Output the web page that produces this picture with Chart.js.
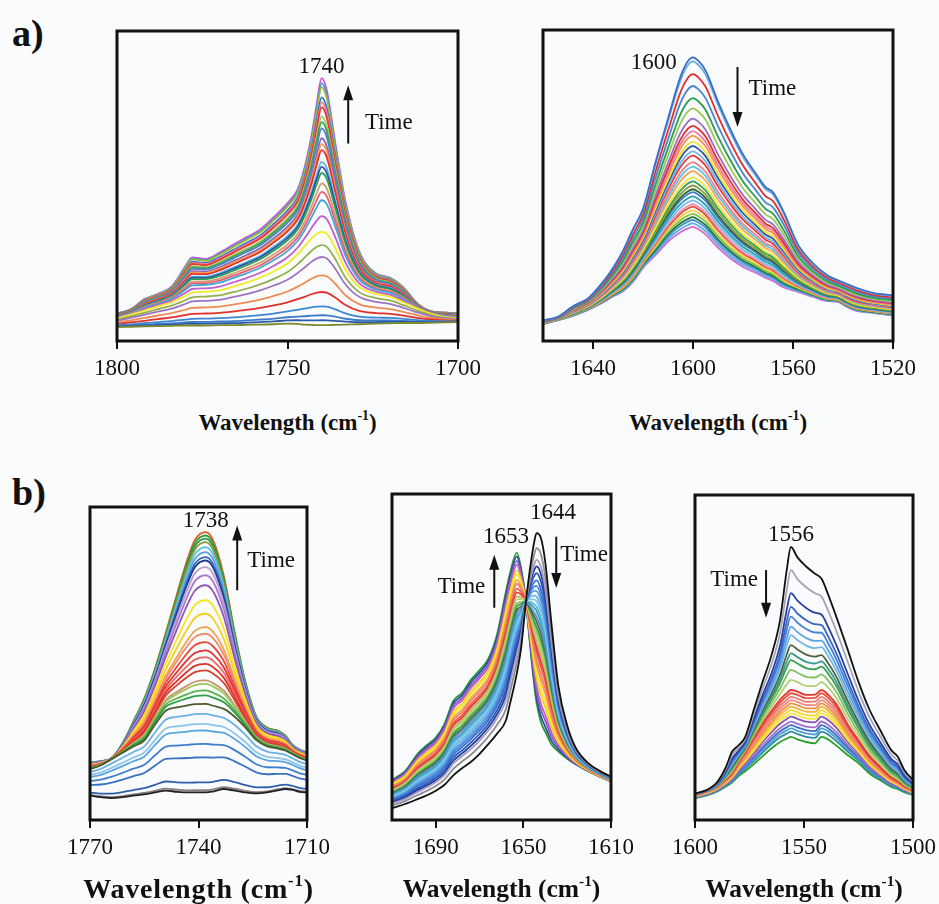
<!DOCTYPE html>
<html lang="en">
<head>
<meta charset="UTF-8">
<title>IR spectra vs time</title>
<script src="https://cdn.jsdelivr.net/npm/chart.js"></script>
<style>
  body { margin: 0; background: #fafbfc; width: 939px; height: 904px; position: relative; overflow: hidden; }
  canvas { position: absolute; }
  .tag { position: absolute; font: bold 38px "Liberation Serif", serif; color: #111; line-height: 1; }
  .title { position: absolute; text-align: center; font-family: "Liberation Serif", serif; font-weight: bold; color: #111; line-height: 1; white-space: nowrap; }
  .title sup { font-size: 0.6em; vertical-align: 0.7em; line-height: 0; }
</style>
</head>
<body>
<div class="tag" style="left:12px;top:14px">a)</div>
<div class="tag" style="left:12px;top:473px">b)</div>

<canvas id="a1"></canvas>
<canvas id="a2"></canvas>
<canvas id="b1"></canvas>
<canvas id="b2"></canvas>
<canvas id="b3"></canvas>

<script>
  // ---- a) left : 1800-1700 band, grows with time ----
  const wnA1 = [1800, 1796, 1792, 1788, 1784, 1780, 1778, 1774, 1770, 1766, 1762, 1758, 1754, 1750, 1747, 1745, 1743, 1741.5, 1740, 1738.5, 1736, 1733, 1729, 1724, 1720, 1716, 1712, 1708, 1704, 1700];
  const firstA1 = [4.5, 4.6, 4.7, 4.8, 4.9, 5.0, 5.0, 5.0, 5.1, 5.1, 5.2, 5.3, 5.4, 5.6, 5.5, 5.3, 5.2, 5.1, 5.1, 5.1, 5.2, 5.3, 5.4, 5.6, 5.7, 5.8, 5.8, 5.9, 6.0, 6.1];
  const midA1 = [7.3, 8.5, 9.8, 11.2, 12.5, 14.5, 15.6, 15.9, 16.3, 17.5, 18.8, 20.4, 22.5, 25, 28, 30.5, 33, 34.5, 35.2, 34.6, 30, 23, 17.5, 15.2, 14.3, 12.5, 10.5, 8.8, 7.8, 7.3];
  const lastA1 = [8.9, 10.2, 13.5, 15.2, 17.5, 24, 27, 26.5, 28.5, 31, 33.5, 36, 40, 44.5, 49, 56, 66, 76, 84.8, 81, 64, 45, 29, 21.8, 20.5, 17.3, 12.2, 9.6, 9.2, 8.9];
  const peaksA1 = [5.1, 6.7, 8.3, 11.2, 15.8, 21.2, 27.1, 30.9, 35.2, 40.3, 45.4, 48.1, 50.8, 54.2, 56.2, 57.8, 61.6, 63.5, 65.4, 68.6, 70.6, 72.4, 75.4, 77, 78.6, 81.9, 83.2, 84.8];
  const ticksA1 = [1800, 1750, 1700];

  // ---- a) right : 1600 band, falls with time ----
  const wnA2 = [1660, 1654, 1648, 1642, 1636, 1632, 1628, 1624, 1620, 1615, 1610, 1605, 1602, 1600, 1598, 1595, 1590, 1585, 1580, 1575, 1571, 1568, 1564, 1558, 1552, 1546, 1542, 1539, 1535, 1528, 1520];
  const firstA2 = [6.6, 7.8, 11.2, 13.7, 19, 23.5, 29, 36, 42.5, 57.5, 71.5, 85, 90, 91.2, 90.2, 87, 77, 68, 60, 54, 49.5, 47.8, 42, 31, 25, 21, 19.5, 18.5, 17.2, 15.5, 14.7];
  const lastA2 = [5.5, 6.7, 8.1, 10, 12.4, 14.3, 16, 19, 23.5, 27.6, 32, 35, 36.2, 36.7, 36, 34.3, 30, 26.5, 23.8, 22, 20.3, 19.3, 17.3, 15.8, 14.2, 12.8, 12.6, 11.2, 9.8, 9, 8.2];
  const peaksA2 = [91.2, 89.9, 85.8, 82.0, 78.1, 74.8, 71.5, 69.2, 67.5, 66.0, 64.1, 62.7, 61.0, 59.6, 57.5, 56.1, 54.6, 52.6, 51.3, 50.0, 48.8, 47.9, 46.5, 45.2, 44.0, 43.2, 42.0, 40.9, 39.8, 38.9, 37.8, 36.7];
  const ticksA2 = [1640, 1600, 1560, 1520];

  // ---- b) left : 1738 band, grows ----
  const wnB1 = [1770, 1767, 1764, 1761, 1758, 1755, 1752, 1749, 1746, 1743, 1741, 1738, 1736, 1733, 1730, 1727, 1724, 1721, 1718, 1716, 1714, 1712, 1710];
  const firstB1 = [7.8, 7.3, 7.0, 7.3, 7.8, 8.2, 8.8, 9.4, 9.0, 8.8, 8.8, 8.8, 9.1, 9.9, 9.4, 8.8, 8.5, 8.8, 9.5, 9.9, 9.6, 9.0, 8.8];
  const midB1 = [16.3, 17.5, 19.5, 21.5, 23.5, 25.4, 30.5, 35, 36, 36.6, 37, 37.1, 36.5, 35.5, 33, 29.5, 25.5, 23.5, 22.8, 22.2, 21, 19.8, 19];
  const lastB1 = [18.4, 18.8, 19.8, 24.5, 31.5, 38.8, 48.5, 60, 72, 83.5, 89.5, 92, 89.5, 78, 60, 44, 33, 29.5, 28.5, 27, 24, 22.5, 21.6];
  const peaksB1 = [8.8, 9.5, 12, 20, 24.3, 28.6, 30.7, 33.9, 37.1, 39.8, 41.4, 43.5, 44.6, 47.8, 49.9, 52, 54.2, 56.8, 59.5, 61.6, 65.9, 70.2, 75, 78.2, 80.8, 82.9, 84, 85.6, 87.2, 88.8, 89.9, 90.9, 92];
  const ticksB1 = [1770, 1740, 1710];

  // ---- b) middle : 1644 falls, 1653 grows ----
  const wnB2 = [1710, 1704, 1698, 1694, 1690, 1686, 1682, 1678, 1674, 1670, 1666, 1662, 1658, 1656, 1653, 1651, 1649, 1647, 1645, 1644, 1642, 1640, 1637, 1634, 1630, 1626, 1620, 1615, 1610];
  const firstB2 = [3.6, 4.9, 6.5, 7.6, 9, 10.8, 13.7, 15.9, 17.8, 20.3, 23.3, 26.5, 30.5, 36, 45, 53, 66, 77, 85.5, 88, 86.5, 79, 59, 41, 29, 22, 17.2, 15, 13.3];
  const lastB2 = [12.3, 15, 20.5, 23, 25.3, 29.5, 36.5, 39, 43, 46, 49.5, 57, 70, 76, 82, 77, 68, 54, 41, 36, 30, 27, 23, 21, 18.8, 17, 14.8, 13.2, 11.8];
  const at1644B2 = [88, 83.4, 79.8, 77.8, 75.7, 73.5, 71.8, 70.2, 68.5, 67.1, 65.4, 64.1, 62.3, 60.9, 59.2, 57.9, 56.1, 54.8, 53.1, 51.5, 49.4, 47.7, 45.4, 43.6, 41.2, 39.5, 37.6, 36];
  const ticksB2 = [1690, 1650, 1610];

  // ---- b) right : 1556 band, falls ----
  const wnB3 = [1600, 1595, 1590, 1586, 1583, 1580, 1577, 1573, 1569, 1565, 1561, 1558, 1556, 1553, 1549, 1545, 1542, 1539, 1535, 1530, 1525, 1520, 1515, 1510, 1507, 1504, 1500];
  const firstB3 = [8.2, 9.1, 11.5, 16, 21, 23, 25.5, 34, 42.5, 50.5, 61.5, 76.5, 84, 80.8, 78, 75.8, 74.3, 69.5, 62.2, 52.5, 42.5, 34, 27.6, 21.5, 19.5, 15.4, 12.3];
  const midB3 = [7.7, 8.8, 10.2, 12.5, 14.5, 18, 21, 25.5, 29.8, 33.5, 37, 39, 40, 39.5, 38.5, 38.6, 40, 38.6, 35.5, 29.5, 24.5, 19.8, 16.3, 13.2, 12, 10.5, 9.2];
  const lastB3 = [6.7, 7.5, 8.7, 10.2, 11.5, 13.5, 15, 17.2, 19.6, 22, 24, 25, 25.6, 24.8, 24, 23.6, 25.6, 24.8, 22.8, 20, 17.5, 14.3, 12.2, 10.2, 9.5, 8.6, 7.7];
  const peaksB3 = [84, 76.9, 69.8, 65.6, 62.6, 59.5, 56.9, 53.8, 51.3, 49.2, 46.2, 43.1, 40, 39, 37.9, 36.9, 35.9, 34.9, 33.8, 32.8, 31.8, 30.3, 29.2, 28.2, 27.2, 25.6];
  const ticksB3 = [1600, 1550, 1500];

  // line colours, in time order
  const colorsA1 = ['#7a8a2c','#2b5aa8','#3b7bcb','#3f86d2','#e3302b','#f08a55','#9d74c2','#93b04c','#f2ea22','#c25ecb','#45a6dc','#e8606e','#d2a077','#2d9b4e','#2a55a8','#5ab8e2','#e52f2f','#f49a4c','#8a64b4','#4f82c8','#3aa352','#a3c75a','#e23b35','#f07c96','#3474c4','#9aba3c','#4d8fd6','#d557d0'];
  const colorsA2 = ['#3a6fc4','#6aaee2','#e22e2e','#4b86d0','#2f9c4f','#9cc85a','#9b6cc6','#e0302f','#ee7aa0','#f39a4a','#f2e22a','#2c55a8','#6fb5e6','#e8383a','#f0808a','#5cc3e6','#f4a64e','#f1e53a','#33a054','#8c9c3a','#2f6b35','#3f78cc','#2aa0b0','#74bfe8','#f28ca8','#e24848','#f3d23a','#7fc050','#1f7a3a','#4a90d8','#5fb0e0','#d66ad2'];
  const colorsB1 = ['#222222','#8d7d86','#2f5faa','#3a70c0','#3f7ecb','#5aa5de','#8cc4ea','#6cb2e2','#4c5a2c','#2e9e4a','#5bb04a','#9cc65c','#c9956a','#d6402f','#e0302a','#ee6a6a','#e52e2e','#e8483a','#f08a70','#f2a04a','#f5cf20','#f7e41c','#9057b8','#a878cc','#b89ad8','#243f8c','#3468c0','#58a2dc','#5bbfe6','#8a9a3a','#2f9a4a','#3a9c3a','#e85a2a'];
  const colorsB2 = ['#111111','#8c8c8c','#a89cc8','#1f3f99','#2a56b8','#3a6fd0','#4a86d8','#5aa0e0','#6fb6e8','#84c6ee','#56b8de','#3a9fb8','#5b8fd0','#4f6a3a','#3aa050','#90c860','#b8cc70','#c2b070','#e83a30','#ee5a4a','#f08070','#f5a040','#f6e830','#f0d020','#c060c0','#8a5cc0','#2b4ea8','#2e9a2e'];
  const colorsB3 = ['#111111','#a4a4b8','#2a40a0','#3a66c8','#4a82d6','#5aa6e0','#74b8e8','#55603a','#3a9a8a','#3aa050','#80c060','#b0d070','#e23a30','#e85040','#f07a70','#f08c8c','#f0903a','#f5b040','#f5d830','#f2e840','#8a50b8','#a070c8','#3a70c8','#50a0d8','#2a8aa0','#2aa02a'];

  const PAD = 40, PAD_TOP = 12, AXIS_H = 60;
  const SERIF = '"Liberation Serif", serif';

  // each spectrum sits between two neighbouring reference spectra,
  // placed by its measured height at the marker band
  function spectra(wn, refs, band, heights, colors) {
    const bi = wn.indexOf(band);
    const refAt = refs.map(r => r[bi]);
    return heights.map((h, n) => {
      let s = 0;
      while (s < refs.length - 2 && (h - refAt[s + 1]) * (refAt[s + 1] - refAt[0]) > 0) s++;
      const t = (h - refAt[s]) / (refAt[s + 1] - refAt[s]);
      return {
        data: wn.map((x, i) => ({ x: x, y: refs[s][i] + t * (refs[s + 1][i] - refs[s][i]) })),
        borderColor: colors[n % colors.length],
        borderWidth: 1.8,
        pointRadius: 0,
        cubicInterpolationMode: 'monotone'
      };
    });
  }

  // box frame, peak labels and "Time" arrows
  function framePlugin(notes) {
    return {
      id: 'frame',
      afterDatasetsDraw(chart) {
        const { ctx, chartArea: a } = chart;
        const xs = chart.scales.x, ys = chart.scales.y;
        ctx.save();
        ctx.strokeStyle = '#111';
        ctx.lineWidth = 3;
        ctx.strokeRect(a.left, a.top, a.right - a.left, a.bottom - a.top);
        ctx.fillStyle = '#111';
        ctx.font = '23px ' + SERIF;
        ctx.textBaseline = 'middle';
        notes.labels.forEach(n => {
          ctx.textAlign = n.align || 'center';
          ctx.fillText(n.text, xs.getPixelForValue(n.x), ys.getPixelForValue(n.y));
        });
        ctx.lineWidth = 2;
        notes.arrows.forEach(n => {
          const px = xs.getPixelForValue(n.x);
          const p0 = ys.getPixelForValue(n.from), p1 = ys.getPixelForValue(n.to);
          const dir = Math.sign(p1 - p0);
          ctx.beginPath();
          ctx.moveTo(px, p0);
          ctx.lineTo(px, p1 - dir * 8);
          ctx.stroke();
          ctx.beginPath();
          ctx.moveTo(px, p1);
          ctx.lineTo(px - 5, p1 - dir * 15);
          ctx.lineTo(px + 5, p1 - dir * 15);
          ctx.closePath();
          ctx.fill();
        });
        ctx.restore();
      }
    };
  }

  function panel(id, box, wn, datasets, ticks, notes, title) {
    const cv = document.getElementById(id);
    const w = box.right - box.left + 2 * PAD;
    const h = box.bottom - box.top + PAD_TOP + AXIS_H;
    cv.width = w; cv.height = h;
    cv.style.left = (box.left - PAD) + 'px';
    cv.style.top = (box.top - PAD_TOP) + 'px';
    cv.style.width = w + 'px'; cv.style.height = h + 'px';

    new Chart(cv, {
      type: 'line',
      data: { datasets: datasets },
      options: {
        responsive: false,
        animation: false,
        events: [],
        layout: { padding: { left: PAD, right: PAD, top: PAD_TOP, bottom: 0 } },
        plugins: { legend: { display: false }, tooltip: { enabled: false } },
        scales: {
          x: {
            type: 'linear',
            reverse: true,
            min: Math.min(...wn),
            max: Math.max(...wn),
            afterBuildTicks: s => { s.ticks = ticks.map(v => ({ value: v })); },
            afterFit: s => { s.height = AXIS_H; },
            grid: { drawOnChartArea: false, drawTicks: true, tickLength: 8, color: '#111', lineWidth: 2 },
            border: { display: false },
            ticks: {
              font: { family: SERIF, size: 23 }, color: '#111', padding: 6,
              maxRotation: 0, autoSkip: false,
              callback: v => String(v)
            }
          },
          y: { display: false, min: 0, max: 100 }
        }
      },
      plugins: [framePlugin(notes)]
    });

    const t = document.createElement('div');
    t.className = 'title';
    t.innerHTML = 'Wavelength (cm<sup>-1</sup>)';
    t.style.fontSize = title.size + 'px';
    if (title.spacing) t.style.letterSpacing = title.spacing + 'px';
    t.style.left = (box.left - 80) + 'px';
    t.style.width = (box.right - box.left + 160) + 'px';
    t.style.top = (title.y - title.size * 0.51) + 'px';
    document.body.appendChild(t);
  }

  panel('a1', { left: 117, top: 31, right: 458, bottom: 341 }, wnA1,
    spectra(wnA1, [firstA1, midA1, lastA1], 1740, peaksA1, colorsA1), ticksA1,
    { labels: [{ x: 1740, y: 88.5, text: '1740' }, { x: 1727.3, y: 70.2, text: 'Time', align: 'left' }],
      arrows: [{ x: 1732.2, from: 63.7, to: 82.5 }] },
    { size: 23, y: 423 });

  panel('a2', { left: 543, top: 30, right: 893, bottom: 341 }, wnA2,
    spectra(wnA2, [firstA2, lastA2], 1600, peaksA2, colorsA2), ticksA2,
    { labels: [{ x: 1615.7, y: 89.4, text: '1600' }, { x: 1577.8, y: 81, text: 'Time', align: 'left' }],
      arrows: [{ x: 1582.2, from: 88.1, to: 68.8 }] },
    { size: 23, y: 423 });

  panel('b1', { left: 90, top: 507, right: 307, bottom: 820 }, wnB1,
    spectra(wnB1, [firstB1, midB1, lastB1], 1738, peaksB1, colorsB1), ticksB1,
    { labels: [{ x: 1738, y: 95.7, text: '1738' }, { x: 1726.5, y: 82.9, text: 'Time', align: 'left' }],
      arrows: [{ x: 1729.3, from: 73.4, to: 94.1 }] },
    { size: 28, y: 889, spacing: 0.8 });

  panel('b2', { left: 392, top: 494, right: 611, bottom: 820 }, wnB2,
    spectra(wnB2, [firstB2, lastB2], 1644, at1644B2, colorsB2), ticksB2,
    { labels: [{ x: 1636.5, y: 94.3, text: '1644' }, { x: 1658, y: 86.9, text: '1653' },
               { x: 1633.2, y: 81.4, text: 'Time', align: 'left' }, { x: 1667.4, y: 71.5, text: 'Time', align: 'right' }],
      arrows: [{ x: 1635, from: 86.9, to: 71.2 }, { x: 1663.3, from: 65.1, to: 81.4 }] },
    { size: 25.5, y: 889 });

  panel('b3', { left: 695, top: 495, right: 913, bottom: 820 }, wnB3,
    spectra(wnB3, [firstB3, midB3, lastB3], 1556, peaksB3, colorsB3), ticksB3,
    { labels: [{ x: 1556, y: 87.7, text: '1556' }, { x: 1571.1, y: 73.8, text: 'Time', align: 'right' }],
      arrows: [{ x: 1567.4, from: 76.9, to: 62.2 }] },
    { size: 25.5, y: 889 });
</script>
</body>
</html>
